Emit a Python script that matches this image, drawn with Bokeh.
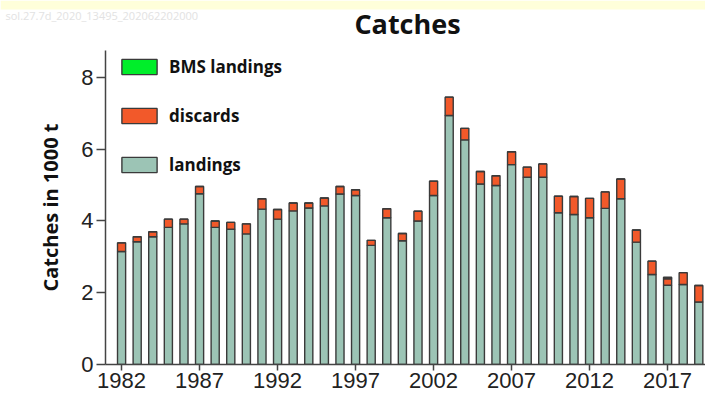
from bokeh.plotting import figure
from bokeh.models import ColumnDataSource, Legend, LegendItem, FixedTicker, Range1d
from bokeh.layouts import column
from bokeh.core.properties import value
from bokeh.embed import file_html
from bokeh.resources import INLINE

years = list(range(1982, 2020))
landings = [3.15, 3.42, 3.56, 3.82, 3.92, 4.76, 3.82, 3.77, 3.64, 4.33,
            4.05, 4.28, 4.36, 4.42, 4.75, 4.71, 3.32, 4.09, 3.45, 4.00,
            4.71, 6.94, 6.26, 5.03, 4.99, 5.57, 5.22, 5.22, 4.23, 4.18,
            4.09, 4.35, 4.62, 3.41, 2.51, 2.21, 2.23, 1.74]
discards = [0.24, 0.14, 0.14, 0.23, 0.13, 0.20, 0.18, 0.19, 0.28, 0.29,
            0.27, 0.22, 0.14, 0.22, 0.21, 0.16, 0.14, 0.25, 0.20, 0.27,
            0.40, 0.51, 0.32, 0.35, 0.27, 0.36, 0.28, 0.37, 0.46, 0.50,
            0.54, 0.46, 0.55, 0.34, 0.37, 0.18, 0.33, 0.46]
bms = [0.0] * 35 + [0.04, 0.0, 0.0]
x_ticks = [1982, 1987, 1992, 1997, 2002, 2007, 2012, 2017]
y_ticks = [0, 2, 4, 6, 8]
title_text = "Catches"
stamp_text = "sol.27.7d_2020_13495_202062202000"

W = 705
TOP_H = 50
MAIN_H = 343

# ---- header strip (yellow band, stamp, title) ----
top = figure(width=W, height=TOP_H, output_backend="svg", toolbar_location=None,
             x_range=Range1d(0, W), y_range=Range1d(TOP_H, 0),
             min_border_left=0, min_border_right=0, min_border_top=0, min_border_bottom=0)
top.frame_align = False
top.axis.visible = False
top.grid.visible = False
top.outline_line_color = None
top.background_fill_color = "white"
top.border_fill_color = "white"
top.quad(left=[0], right=[W], top=[0], bottom=[9], fill_color="#FFFFDA", line_color=None)
top.text(x=[5], y=[15], text=[stamp_text], text_align="left", text_baseline="middle",
         text_font=value("Open Sans"), text_font_size="11px", text_color="#e2e2e2")
top.text(x=[407], y=[23], text=[title_text], text_align="center", text_baseline="middle",
         text_font=value("Open Sans"), text_font_style="bold", text_font_size="27px",
         text_color="#111111")

# ---- main chart ----
src = ColumnDataSource(dict(year=years, landings=landings, discards=discards, bms=bms))

p = figure(width=W, height=MAIN_H, output_backend="svg", toolbar_location=None,
           x_range=Range1d(1980.97, 2019.43), y_range=Range1d(0, 8.75),
           min_border_left=105, min_border_right=0, min_border_top=0, min_border_bottom=29)
p.frame_align = False
p.outline_line_color = None
p.xgrid.visible = False
p.ygrid.visible = False
p.background_fill_color = "white"
p.border_fill_color = "white"

rs = p.vbar_stack(["landings", "discards", "bms"], x="year", width=0.52, source=src,
                  fill_color=["#9CC4B5", "#F2592A", "#00EE2A"],
                  line_color="#3a3a3a", line_width=1.4)

legend = Legend(items=[LegendItem(label="BMS landings", renderers=[rs[2]]),
                       LegendItem(label="discards", renderers=[rs[1]]),
                       LegendItem(label="landings", renderers=[rs[0]])],
                location=(12, 188))
legend.glyph_width = 44
legend.glyph_height = 19
legend.label_height = 19
legend.spacing = 26
legend.padding = 0
legend.margin = 0
legend.label_standoff = 8
legend.border_line_alpha = 0
legend.background_fill_alpha = 0
legend.label_text_font = "Open Sans"
legend.label_text_font_style = "bold"
legend.label_text_font_size = "17px"
legend.label_text_color = "#111111"
p.add_layout(legend)

for ax in (p.xaxis[0], p.yaxis[0]):
    ax.axis_line_color = "#444444"
    ax.axis_line_width = 1.5
    ax.major_tick_line_color = "#444444"
    ax.major_tick_line_width = 1.5
    ax.major_tick_in = 0
    ax.minor_tick_line_color = None
    ax.major_label_text_font = "Liberation Sans"
    ax.major_label_text_font_size = "22px"
    ax.major_label_text_color = "#222222"

p.xaxis.ticker = FixedTicker(ticks=x_ticks)
p.xaxis.major_tick_out = 6
p.xaxis.major_label_standoff = 2
p.yaxis.ticker = FixedTicker(ticks=y_ticks)
p.yaxis.major_tick_out = 9
p.yaxis.major_label_standoff = 3
p.yaxis.axis_label = "Catches in 1000 t"
p.yaxis.axis_label_text_font = "Open Sans"
p.yaxis.axis_label_text_font_style = "bold"
p.yaxis.axis_label_text_font_size = "20px"
p.yaxis.axis_label_text_color = "#111111"
p.yaxis.axis_label_standoff = 14

layout = column(top, p, spacing=0)
open("out.html", "w").write(file_html(layout, INLINE))
